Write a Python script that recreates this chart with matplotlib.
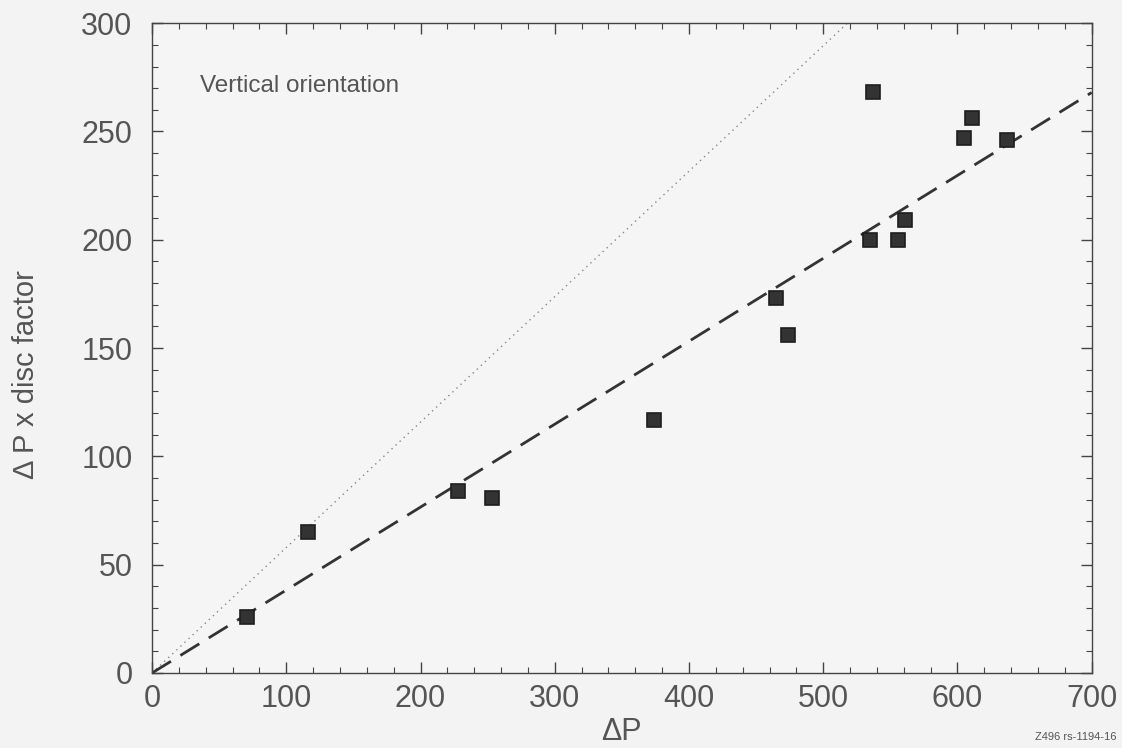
import matplotlib

matplotlib.use("Agg")
import matplotlib.pyplot as plt
import numpy as np
from matplotlib.ticker import MultipleLocator

# measured points
delta_p = [71, 116, 228, 253, 374, 465, 474, 535, 537, 556, 561, 605, 611, 637]
scaled = [26, 65, 84, 81, 117, 173, 156, 200, 268, 200, 209, 247, 256, 246]

# reference lines through the origin
fit_x = [0, 700]
fit_y = [0, 268]
dot_x = [0, 518]
dot_y = [0, 300]

TEXT = "#555555"
EDGE = "#444444"

plt.rcParams["font.family"] = ["Liberation Sans", "DejaVu Sans"]

fig = plt.figure(figsize=(11.22, 7.48), dpi=100, facecolor="#f3f3f3")
ax = fig.add_axes([0.1355, 0.1003, 0.8375, 0.8687])
ax.set_facecolor("#f5f5f5")

ax.plot(dot_x, dot_y, linestyle=(0, (1, 3)), color="#888888", linewidth=1.0)
ax.plot(fit_x, fit_y, linestyle=(0, (8, 4)), color="#333333", linewidth=2.0)
ax.plot(delta_p, scaled, linestyle="none", marker="s", markersize=10,
        markerfacecolor="#333333", markeredgecolor="#1e1e1e", markeredgewidth=1.2)

ax.set_xlim(0, 700)
ax.set_ylim(0, 300)
ax.xaxis.set_major_locator(MultipleLocator(100))
ax.xaxis.set_minor_locator(MultipleLocator(20))
ax.yaxis.set_major_locator(MultipleLocator(50))
ax.yaxis.set_minor_locator(MultipleLocator(10))
ax.tick_params(which="both", direction="in", top=True, right=True, color=EDGE,
               labelcolor=TEXT)
ax.tick_params(which="major", length=8, width=1.0, labelsize=22, pad=8)
ax.tick_params(which="minor", length=4, width=0.8)
ax.tick_params(axis="y", which="major", pad=14)
for s in ax.spines.values():
    s.set_color(EDGE)
    s.set_linewidth(1.0)

ax.set_xlabel("ΔP", fontsize=22, color=TEXT)
ax.xaxis.set_label_coords(0.499, -0.068)
ax.set_ylabel("Δ P x disc factor", fontsize=21, color=TEXT)
ax.yaxis.set_label_coords(-0.1195, 0.46)
ax.text(36, 271, "Vertical orientation", fontsize=17.5, color=TEXT, va="center")
fig.text(0.995, 0.008, "Z496 rs-1194-16", fontsize=8, color=TEXT, ha="right", va="bottom")

fig.savefig("out.png", dpi=100, facecolor=fig.get_facecolor())
plt.close(fig)
